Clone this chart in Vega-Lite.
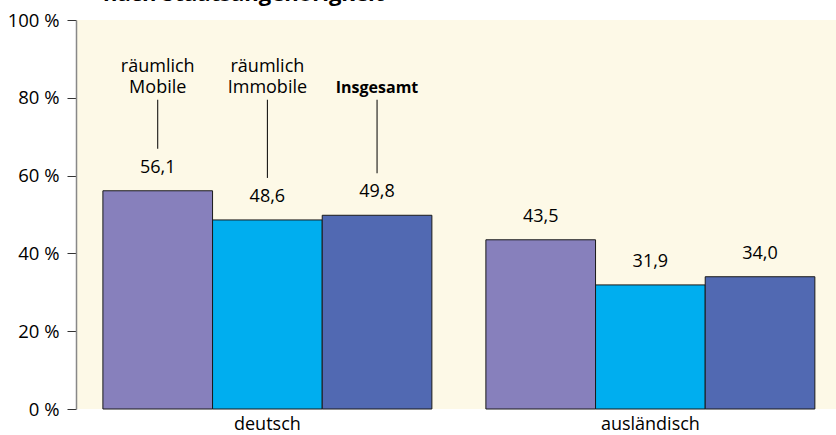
{
  "$schema": "https://vega.github.io/schema/vega-lite/v6.json",
  "width": 760,
  "height": 389,
  "autosize": {"type": "none"},
  "padding": {"left": 76, "top": 20, "right": 0, "bottom": 26},
  "background": "white",
  "config": {
    "view": {"fill": "#FDF9E7", "stroke": null},
    "font": "Open Sans",
    "locale": {"number": {"decimal": ",", "thousands": ".", "grouping": [3], "currency": ["", " €"]}}
  },
  "title": {"text": "nach Staatsangehörigkeit", "anchor": "start", "frame": "group", "dx": 27, "offset": -12, "baseline": "alphabetic", "fontSize": 22, "fontWeight": "bold", "font": "Open Sans", "color": "#000"},
  "data": {"values": [
    {"group": "deutsch", "series": "räumlich Mobile", "value": 56.1},
    {"group": "deutsch", "series": "räumlich Immobile", "value": 48.6},
    {"group": "deutsch", "series": "Insgesamt", "value": 49.8},
    {"group": "ausländisch", "series": "räumlich Mobile", "value": 43.5},
    {"group": "ausländisch", "series": "räumlich Immobile", "value": 31.9},
    {"group": "ausländisch", "series": "Insgesamt", "value": 34.0}
  ]},
  "encoding": {
    "x": {"field": "group", "type": "nominal", "sort": ["deutsch", "ausländisch"],
      "scale": {"paddingInner": 0.141, "paddingOuter": 0.0627, "align": 0.56},
      "axis": {"title": null, "labelAngle": 0, "ticks": false, "domain": false, "labelFontSize": 18, "labelPadding": 6, "labelColor": "#000", "labelFont": "Open Sans"}},
    "xOffset": {"field": "series", "type": "nominal", "sort": ["räumlich Mobile", "räumlich Immobile", "Insgesamt"], "scale": {"paddingInner": 0, "paddingOuter": 0}}
  },
  "layer": [
    {
      "mark": {"type": "bar", "stroke": "#1a1a1a", "strokeWidth": 1},
      "encoding": {
        "y": {"field": "value", "type": "quantitative", "scale": {"domain": [0, 100]},
          "axis": {"values": [0, 20, 40, 60, 80, 100], "labelExpr": "datum.value + ' %'", "title": null, "grid": false, "domainColor": "#888", "domainWidth": 1.5, "tickColor": "#333", "tickSize": 9, "labelFontSize": 18.5, "labelPadding": 8, "labelColor": "#000", "labelFont": "Open Sans"}},
        "color": {"field": "series", "type": "nominal", "scale": {"domain": ["räumlich Mobile", "räumlich Immobile", "Insgesamt"], "range": ["#8780BC", "#00AEEF", "#5169B2"]}, "legend": null}
      }
    },
    {
      "mark": {"type": "text", "dy": -18, "baseline": "alphabetic", "fontSize": 18, "font": "Open Sans", "color": "#000"},
      "encoding": {
        "y": {"field": "value", "type": "quantitative"},
        "text": {"field": "value", "type": "quantitative", "format": ".1f"}
      }
    },
    {
      "transform": [{"filter": "datum.group === 'deutsch'"}],
      "mark": {"type": "rule", "yOffset": -42, "color": "#000", "strokeWidth": 1},
      "encoding": {
        "y": {"field": "value", "type": "quantitative"},
        "y2": {"datum": 79.5}
      }
    },
    {
      "transform": [{"filter": "datum.group === 'deutsch' && datum.series !== 'Insgesamt'"}],
      "mark": {"type": "text", "baseline": "alphabetic", "fontSize": 18, "font": "Open Sans", "color": "#000", "lineBreak": " ", "lineHeight": 21},
      "encoding": {
        "y": {"datum": 86.7},
        "text": {"field": "series"}
      }
    },
    {
      "transform": [{"filter": "datum.group === 'deutsch' && datum.series === 'Insgesamt'"}],
      "mark": {"type": "text", "baseline": "alphabetic", "fontSize": 16, "fontWeight": "bold", "font": "Open Sans", "color": "#000"},
      "encoding": {
        "y": {"datum": 81.3},
        "text": {"field": "series"}
      }
    }
  ]
}
